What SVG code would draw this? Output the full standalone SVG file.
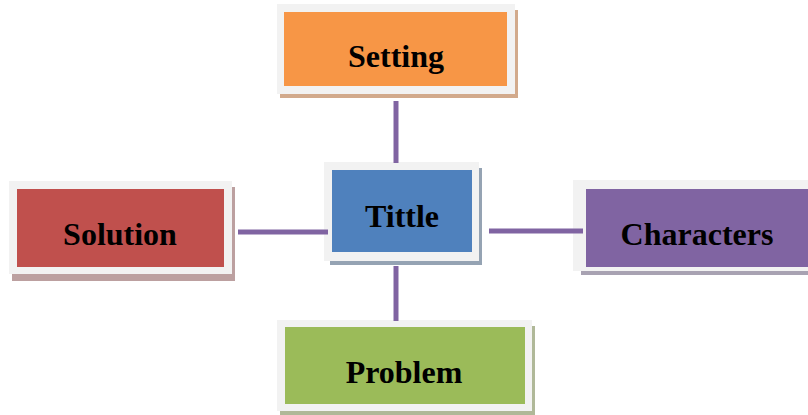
<svg xmlns="http://www.w3.org/2000/svg" width="808" height="415" viewBox="0 0 808 415">
<style>
.frame{fill:#f2f2f2}
.lbl{font-family:"Liberation Serif","Times New Roman",serif;font-weight:bold;font-size:32px;fill:#000;text-anchor:middle}
.conn{stroke:#8064a2;stroke-width:5;fill:none}
</style>
<rect width="808" height="415" fill="#ffffff"/>
<g id="setting">
<rect x="280" y="10" width="238" height="88" fill="#d2aa8c"/>
<rect class="frame" x="277" y="4" width="238" height="90"/>
<rect x="284" y="12" width="223" height="74" fill="#f79646"/>
<text class="lbl" x="396" y="67">Setting</text>
</g>
<g id="solution">
<rect x="12" y="187" width="223" height="94" fill="#bca0a0"/>
<rect class="frame" x="9" y="181" width="223" height="93"/>
<rect x="17" y="189" width="207" height="78" fill="#c0504d"/>
<text class="lbl" x="120" y="245">Solution</text>
</g>
<g id="tittle">
<rect x="330" y="168" width="152" height="97" fill="#95a3b3"/>
<rect class="frame" x="324" y="162" width="155" height="99"/>
<rect x="332" y="170" width="140" height="82" fill="#4f81bd"/>
<text class="lbl" x="402" y="227">Tittle</text>
</g>
<g id="characters">
<rect x="581" y="186" width="240" height="89" fill="#a8a2b2"/>
<rect class="frame" x="573" y="180" width="245" height="91"/>
<rect x="586" y="189" width="230" height="78" fill="#8064a2"/>
<text class="lbl" x="697" y="245">Characters</text>
</g>
<g id="problem">
<rect x="280" y="326" width="255" height="89" fill="#b0b898"/>
<rect class="frame" x="277" y="320" width="255" height="91"/>
<rect x="285" y="327" width="240" height="77" fill="#9bbb59"/>
<text class="lbl" x="404" y="383">Problem</text>
</g>
<g id="connectors">
<line class="conn" x1="396" y1="101" x2="396" y2="163"/>
<line class="conn" x1="396" y1="266" x2="396" y2="321"/>
<line class="conn" x1="238" y1="232" x2="328" y2="232"/>
<line class="conn" x1="489" y1="231" x2="583" y2="231"/>
</g>
</svg>
